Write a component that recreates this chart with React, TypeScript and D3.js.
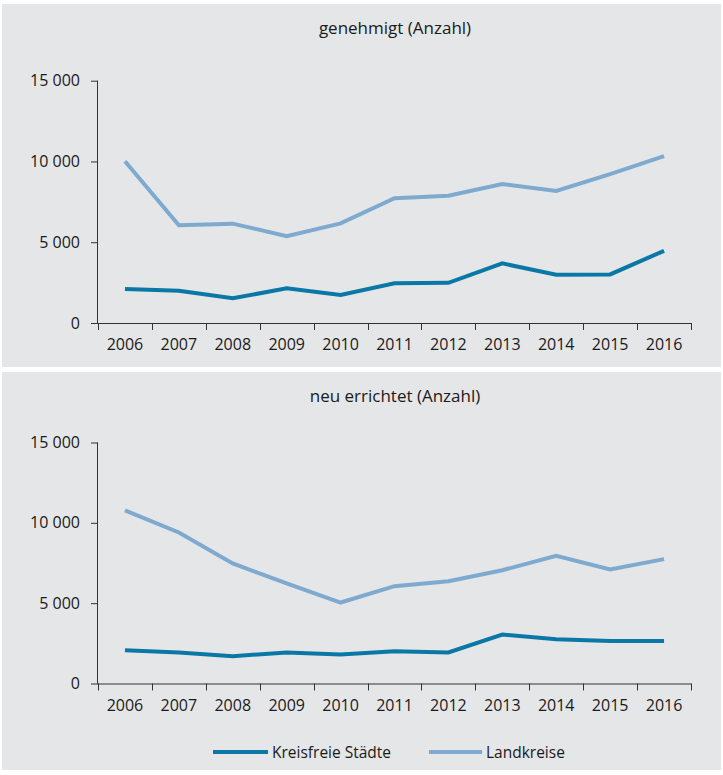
import React from "react";
import * as d3 from "d3";

const years = ["2006","2007","2008","2009","2010","2011","2012","2013","2014","2015","2016"];
const genehmigtKreisfrei = [2100, 2000, 1530, 2150, 1730, 2460, 2490, 3690, 2990, 3010, 4470];
const genehmigtLandkreise = [10010, 6050, 6150, 5380, 6170, 7720, 7880, 8600, 8170, 9220, 10330];
const errichtetKreisfrei = [2070, 1930, 1700, 1930, 1800, 2010, 1930, 3050, 2760, 2650, 2650];
const errichtetLandkreise = [10770, 9400, 7470, 6230, 5040, 6060, 6370, 7050, 7950, 7100, 7740];
const yTicks = [0, 5000, 10000, 15000];
const titles = ["genehmigt (Anzahl)", "neu errichtet (Anzahl)"];
const seriesNames = ["Kreisfreie Städte", "Landkreise"];

const W = 723, H = 775;
const DARK = "#0a78a6";
const LIGHT = "#7eaacf";
const BG = "#e5e6e8";
const AXIS = "#333";
const TXT = "#1a1a1a";
const FONT = "'Open Sans', sans-serif";

const fmt = (v: number) => d3.format(",")(v).replace(/,/g, " ");

function Panel({ top, bottom, zeroY, topY, title, kf, lk, legend }: any) {
  const x = d3.scaleBand<string>().domain(years).range([98, 691]);
  const y = d3.scaleLinear().domain([0, 15000]).range([zeroY, topY]);
  const line = d3.line<number>().x((_, i) => (x(years[i]) as number) + x.bandwidth() / 2).y((d) => y(d));
  const bounds = [...years.map((yr) => x(yr) as number), 691];
  return (
    <g>
      <rect x={2} y={top} width={719} height={bottom - top} fill={BG} />
      <text x={395} y={top + 30} textAnchor="middle" fontFamily={FONT} fontSize={17} fill={TXT}>{title}</text>
      <line x1={97.5} x2={97.5} y1={y(15000)} y2={zeroY} stroke={AXIS} strokeWidth={1} />
      <line x1={97.5} x2={691.5} y1={zeroY + 0.5} y2={zeroY + 0.5} stroke={AXIS} strokeWidth={1} />
      {yTicks.map((t) => (
        <g key={t}>
          <line x1={91} x2={98} y1={y(t) + 0.5} y2={y(t) + 0.5} stroke={AXIS} strokeWidth={1} />
          <text x={80} y={y(t) + 5.5} textAnchor="end" fontFamily={FONT} fontSize={16} fill={TXT}>{fmt(t)}</text>
        </g>
      ))}
      {bounds.map((b, i) => (
        <line key={i} x1={Math.round(b) + 0.5} x2={Math.round(b) + 0.5} y1={zeroY} y2={zeroY + 7} stroke={AXIS} strokeWidth={1} />
      ))}
      {years.map((yr) => (
        <text key={yr} x={(x(yr) as number) + x.bandwidth() / 2} y={zeroY + 27} textAnchor="middle" fontFamily={FONT} fontSize={16} fill={TXT}>{yr}</text>
      ))}
      <path d={line(lk) as string} fill="none" stroke={LIGHT} strokeWidth={4} strokeLinejoin="miter" />
      <path d={line(kf) as string} fill="none" stroke={DARK} strokeWidth={4} strokeLinejoin="miter" />
      {legend && (
        <g>
          <line x1={213} x2={268} y1={752} y2={752} stroke={DARK} strokeWidth={4} />
          <text x={272} y={757.5} fontFamily={FONT} fontSize={15.5} fill={TXT}>{seriesNames[0]}</text>
          <line x1={429} x2={482} y1={752} y2={752} stroke={LIGHT} strokeWidth={4} />
          <text x={486} y={757.5} fontFamily={FONT} fontSize={15.5} fill={TXT}>{seriesNames[1]}</text>
        </g>
      )}
    </g>
  );
}

export default function App() {
  return (
    <svg width={W} height={H} style={{ position: "absolute", left: 0, top: 0, background: "#fff" }}>
      <Panel top={4} bottom={367} zeroY={323} topY={80.7} title={titles[0]} kf={genehmigtKreisfrei} lk={genehmigtLandkreise} legend={false} />
      <Panel top={372} bottom={770} zeroY={683.5} topY={442.5} title={titles[1]} kf={errichtetKreisfrei} lk={errichtetLandkreise} legend={true} />
    </svg>
  );
}
